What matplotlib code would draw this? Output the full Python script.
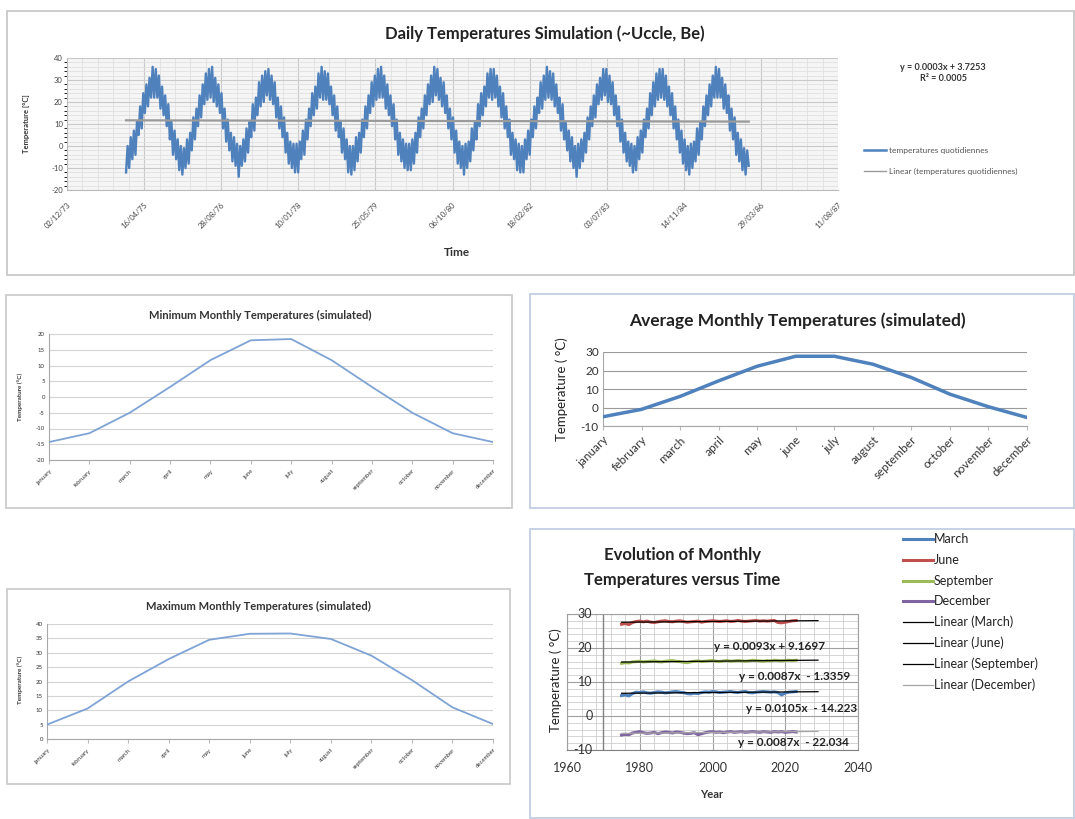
import numpy as np
import pandas as pd
import matplotlib
matplotlib.use('Agg')
import matplotlib.pyplot as plt
from matplotlib.patches import Rectangle
from matplotlib.lines import Line2D
from matplotlib.transforms import offset_copy
import matplotlib.dates as mdates
from matplotlib.ticker import MultipleLocator, FixedLocator, NullFormatter

plt.rcParams['font.family'] = ['Lato', 'DejaVu Sans']
plt.rcParams['axes.unicode_minus'] = False

# ---------------- DATA ----------------
# Daily temperature simulation (~10-day samples read from the band), one row per year from Dec 1974
daily_rows = [
    [-12,0,-10,4,-6,7,-4,11,5,18,8,24,15,28,18,31,22,36,22,35,22,32,17,27,14,23,9,19,3,11,-4,7,-6,3,-11,0],
    [-13,-1,-10,3,-8,6,-2,13,3,17,9,23,13,28,19,33,21,35,22,36,20,31,18,28,15,24,8,17,2,12,-2,6,-7,4,-9,1],
    [-14,0,-9,3,-7,8,-3,11,4,19,7,22,14,29,18,32,20,34,23,35,21,32,19,29,13,22,8,18,4,13,-3,6,-8,2,-10,1],
    [-12,1,-12,2,-6,7,-4,12,3,17,9,24,14,27,17,33,22,36,21,34,21,33,19,27,14,23,7,18,4,11,-3,8,-6,3,-12,0],
    [-13,0,-11,4,-7,6,-3,12,4,18,8,23,15,29,18,32,21,35,22,36,22,32,17,28,14,23,9,19,3,12,-4,6,-7,3,-10,1],
    [-11,1,-11,3,-8,6,-3,13,4,17,8,23,14,28,19,32,20,36,23,35,21,31,18,29,15,23,8,17,3,13,-3,7,-8,2,-10,0],
    [-13,1,-10,2,-7,8,-2,11,3,19,9,24,14,27,18,33,22,35,21,35,22,32,18,27,13,24,8,18,4,12,-4,6,-6,3,-11,1],
    [-12,0,-12,3,-6,7,-4,12,4,18,8,22,15,29,17,32,21,36,22,34,21,33,18,28,15,22,7,19,3,11,-2,7,-7,4,-10,0],
    [-14,1,-10,3,-7,6,-3,13,3,18,9,23,13,28,19,31,21,35,23,35,20,32,19,29,14,23,9,18,2,12,-3,6,-7,2,-9,1],
    [-12,0,-11,4,-6,7,-3,12,4,17,8,24,14,29,18,33,21,35,22,35,21,32,18,27,14,24,8,18,3,12,-3,7,-8,3,-11,0],
    [-13,1,-10,2,-7,8,-4,11,3,18,9,23,14,28,18,32,22,36,22,35,22,31,17,28,15,23,7,17,3,13,-4,6,-7,3,-11,-1],
    [-13,-2,-9],
]
daily_start = '1974-12-20'
daily_step_days = 365.25 / 36
daily_label = 'temperatures quotidiennes'
daily_trend_label = 'Linear (temperatures quotidiennes)'
daily_eq = 'y = 0.0003x + 3.7253\nR² = 0.0005'
date_tick_labels = ['02/12/73', '16/04/75', '28/08/76', '10/01/78', '25/05/79', '06/10/80',
                    '18/02/82', '03/07/83', '14/11/84', '29/03/86', '11/08/87']

months = ['january', 'february', 'march', 'april', 'may', 'june', 'july',
          'august', 'september', 'october', 'november', 'december']
min_temps = [-14.3, -11.5, -5.0, 3.2, 11.7, 18.0, 18.4, 11.7, 3.2, -5.0, -11.5, -14.3]
max_temps = [5.0, 10.6, 20.0, 27.8, 34.5, 36.6, 36.7, 34.8, 29.0, 20.5, 11.0, 5.2]
avg_temps = [-5.0, -1.0, 6.0, 14.4, 22.3, 27.7, 27.7, 23.4, 16.2, 7.2, 0.4, -5.4]

years = list(range(1975, 2024))
june = [27.0,27.2,26.9,27.5,27.8,27.9,27.7,27.9,27.6,27.5,27.7,27.9,28.0,27.8,27.7,27.9,28.0,
        27.8,27.6,27.7,27.8,27.9,27.6,27.8,27.9,28.0,27.9,27.8,27.9,28.0,27.8,27.9,28.1,27.9,
        27.8,27.9,28.0,28.1,27.9,28.0,27.9,28.0,28.1,27.5,27.4,27.6,27.8,28.0,28.1]
september = [15.5,15.7,15.6,15.9,16.0,16.1,15.9,16.0,16.1,16.2,16.0,15.9,16.1,16.2,16.3,16.1,
             16.0,15.8,15.7,15.9,16.1,16.2,16.0,16.1,16.2,16.3,16.1,16.0,16.2,16.3,16.1,16.2,
             16.3,16.2,16.1,16.2,16.4,16.3,16.2,16.1,16.3,16.2,16.4,16.3,16.2,16.3,16.4,16.3,16.4]
march = [6.0,6.2,5.9,6.6,7.0,6.9,7.1,6.8,6.7,6.9,7.1,7.0,6.8,6.9,7.1,7.2,7.0,6.9,6.6,6.5,6.7,
         6.6,6.9,7.1,7.0,7.2,7.1,6.9,7.0,7.1,7.2,7.0,6.9,7.1,7.2,6.9,6.8,7.0,7.1,7.2,7.1,7.0,
         7.1,6.9,6.2,6.8,7.0,7.1,7.2]
december = [-5.6,-5.4,-5.5,-5.0,-4.8,-4.6,-4.9,-5.1,-5.0,-4.8,-5.2,-4.9,-4.7,-4.8,-5.0,-4.7,
            -4.8,-5.0,-5.2,-5.1,-4.9,-5.5,-5.2,-4.9,-4.7,-4.6,-4.8,-4.7,-4.9,-4.7,-4.6,-4.8,
            -4.7,-4.6,-4.8,-4.7,-4.6,-4.7,-4.8,-4.6,-4.7,-4.8,-4.6,-4.7,-4.6,-4.8,-4.7,-4.6,-4.7]
evo_series = ['March', 'June', 'September', 'December']
evo_values = [march, june, september, december]
evo_colors = ['#4F81BD', '#C0504D', '#9BBB59', '#8064A2']
trend_colors = ['#000000', '#000000', '#000000', '#A6A6A6']
evo_equations = ['y = 0.0093x + 9.1697', 'y = 0.0087x  - 1.3359',
                 'y = 0.0105x  - 14.223', 'y = 0.0087x  - 22.034']
evo_ticks_y = [-10, 0, 10, 20, 30]
evo_axis_year = 1970
trend_end_year = 2029

# ---------------- FIGURE ----------------
W, H = 1075, 819
fig = plt.figure(figsize=(W / 100, H / 100), dpi=100)


def rect(l, t, r, b):
    return [l / W, 1 - b / H, (r - l) / W, (b - t) / H]


def fx(x):
    return x / W


def fy(y):
    return 1 - y / H


def box(l, t, r, b, color):
    fig.add_artist(Rectangle((fx(l), fy(b)), (r - l) / W, (b - t) / H, transform=fig.transFigure,
                             fill=False, edgecolor=color, linewidth=1.2))


def ftext(x, y, s, **kw):
    fig.text(fx(x), fy(y), s, **kw)


box(7, 11, 1074, 275, '#c4c4c4')
box(6, 295, 512, 508, '#c8c8c8')
box(530, 294, 1074, 508, '#bccbe0')
box(7, 589, 510, 784, '#c8c8c8')
box(530, 529, 1074, 818, '#bccbe0')

# ---- Top: daily temperatures ----
ax = fig.add_axes(rect(67, 58, 838, 190))
daily = np.concatenate([np.array(r, dtype=float) for r in daily_rows])
dates = pd.Timestamp(daily_start) + pd.to_timedelta(np.arange(len(daily)) * daily_step_days, unit='D')
xd = mdates.date2num(dates.to_pydatetime())
tick_dates = pd.to_datetime(date_tick_labels, format='%d/%m/%y')
xt = mdates.date2num(tick_dates.to_pydatetime())
ax.set_facecolor('#f5f5f5')
ax.plot(xd, daily, color='#4F81BD', lw=1.7, zorder=3, solid_joinstyle='round')
coef = np.polyfit(xd, daily, 1)
xx = np.array([xd[0], xd[-1]])
ax.plot(xx, np.polyval(coef, xx), color='#9a9a9a', lw=1.6, zorder=4)
ax.set_xlim(xt[0], xt[-1])
ax.set_ylim(-20, 40)
ax.xaxis.set_major_locator(FixedLocator(xt))
ax.xaxis.set_minor_locator(FixedLocator(np.arange(xt[0], xt[-1], (xt[1] - xt[0]) / 5)))
ax.set_xticklabels(date_tick_labels, rotation=45, ha='right', va='top', rotation_mode='anchor',
                   fontsize=5.5, color='#444444')
ax.yaxis.set_major_locator(MultipleLocator(10))
ax.yaxis.set_minor_locator(MultipleLocator(2))
ax.tick_params(axis='y', labelsize=5.5, labelcolor='#444444', length=0, pad=3)
ax.tick_params(axis='x', which='both', length=0, pad=8)
ax.grid(which='major', color='#c9c9c9', lw=0.8)
ax.grid(which='minor', color='#e0e0e0', lw=0.6)
ax.set_axisbelow(True)
for s in ax.spines.values():
    s.set_visible(False)
ax.spines['bottom'].set_visible(True)
ax.spines['bottom'].set_color('#bbbbbb')
ax.spines['left'].set_visible(True)
ax.spines['left'].set_color('#bbbbbb')
ftext(545, 34, 'Daily Temperatures Simulation (~Uccle, Be)', ha='center', va='center',
      fontsize=12, fontweight='bold', color='#222222')
ftext(27, 124, 'Temperature [°C]', ha='center', va='center', rotation=90, fontsize=5.5,
      fontweight='bold', color='#333333')
ftext(457, 252, 'Time', ha='center', va='center', fontsize=8.5, fontweight='bold', color='#333333')
ftext(943, 73, daily_eq, ha='center', va='center', fontsize=6.5, fontweight='bold',
      color='#333333', linespacing=1.3)
fig.add_artist(Line2D([fx(864), fx(886)], [fy(150), fy(150)], transform=fig.transFigure,
                      color='#4F81BD', lw=1.8))
fig.add_artist(Line2D([fx(864), fx(886)], [fy(171), fy(171)], transform=fig.transFigure,
                      color='#9a9a9a', lw=1.0))
ftext(889, 150, daily_label, ha='left', va='center', fontsize=6, color='#555555')
ftext(889, 171, daily_trend_label, ha='left', va='center', fontsize=6, color='#555555')


# ---- Monthly charts helper ----
def monthly(axrect, values, ymin, ymax, ystep, color, lw, fs, gridc):
    a = fig.add_axes(axrect)
    xi = np.arange(len(months))
    a.plot(xi, values, color=color, lw=lw, zorder=3)
    a.set_xlim(0, len(months) - 1)
    a.set_ylim(ymin, ymax)
    a.set_xticks(xi)
    a.set_xticklabels(months, rotation=45, ha='right', va='top', rotation_mode='anchor',
                      fontsize=fs, color='#333333')
    a.yaxis.set_major_locator(MultipleLocator(ystep))
    a.tick_params(axis='y', labelsize=fs, labelcolor='#333333', length=0, pad=3)
    a.tick_params(axis='x', length=3, color='#bbbbbb', direction='out', pad=3)
    a.grid(axis='y', color=gridc, lw=0.8)
    a.set_axisbelow(True)
    for s in ['top', 'right']:
        a.spines[s].set_visible(False)
    for s in ['left', 'bottom']:
        a.spines[s].set_color('#a8a8a8')
    a.set_facecolor('none')
    return a


monthly(rect(49, 334, 493, 460), min_temps, -20, 20, 5, '#7fa3d5', 1.3, 4.3, '#d4d4d4')
ftext(260, 315, 'Minimum Monthly Temperatures (simulated)', ha='center', va='center',
      fontsize=8, fontweight='bold', color='#333333')
ftext(20, 397, 'Temperature (°C)', ha='center', va='center', rotation=90, fontsize=4.5,
      fontweight='bold', color='#333333')

monthly(rect(47, 624, 493, 739), max_temps, 0, 40, 5, '#7fa3d5', 1.3, 4.3, '#d4d4d4')
ftext(258, 606, 'Maximum Monthly Temperatures (simulated)', ha='center', va='center',
      fontsize=8, fontweight='bold', color='#333333')
ftext(20, 680, 'Temperature (°C)', ha='center', va='center', rotation=90, fontsize=4.5,
      fontweight='bold', color='#333333')

monthly(rect(603, 352, 1027, 426), avg_temps, -10, 30, 10, '#4F81BD', 2.5, 8.5, '#9a9a9a')
ftext(797, 321, 'Average Monthly Temperatures (simulated)', ha='center', va='center',
      fontsize=12.5, fontweight='bold', color='#222222')
ftext(562, 389, 'Temperature ( °C)', ha='center', va='center', rotation=90, fontsize=9.5,
      color='#222222')

# ---- Evolution chart ----
ae = fig.add_axes(rect(567, 614, 858, 750))
for name, vals, c, tc in zip(evo_series, evo_values, evo_colors, trend_colors):
    ae.plot(years, vals, color=c, lw=2.2, zorder=3)
    cf = np.polyfit(years, vals, 1)
    yy = np.array([years[0], trend_end_year])
    ae.plot(yy, np.polyval(cf, yy), color=tc, lw=0.9, zorder=4)
ae.set_xlim(1960, 2040)
ae.set_ylim(-10, 30)
ae.xaxis.set_major_locator(MultipleLocator(20))
ae.xaxis.set_minor_locator(MultipleLocator(4))
ae.yaxis.set_major_locator(FixedLocator(evo_ticks_y))
ae.yaxis.set_minor_locator(MultipleLocator(2))
ae.yaxis.set_major_formatter(NullFormatter())
ae.grid(which='major', color='#a0a0a0', lw=0.8)
ae.grid(which='minor', color='#cfcfcf', lw=0.6)
ae.set_axisbelow(True)
ae.axvline(evo_axis_year, color='#808080', lw=1.0, zorder=1)
for s in ae.spines.values():
    s.set_color('#a0a0a0')
ae.spines['bottom'].set_color('#808080')
ae.tick_params(axis='both', which='both', length=0)
ae.tick_params(axis='x', labelsize=9, labelcolor='#333333', pad=9)
ae.set_facecolor('none')
ylab_tr = offset_copy(ae.transData, fig=fig, x=-11, y=0, units='dots')
for v in evo_ticks_y:
    ae.text(evo_axis_year, v, str(v), transform=ylab_tr, ha='right', va='center',
            fontsize=9, color='#333333', zorder=5, clip_on=False)
ftext(682, 555, 'Evolution of Monthly', ha='center', va='center', fontsize=12,
      fontweight='bold', color='#222222')
ftext(682, 580, 'Temperatures versus Time', ha='center', va='center', fontsize=12,
      fontweight='bold', color='#222222')
ftext(556, 680, 'Temperature ( °C)', ha='center', va='center', rotation=90, fontsize=9.5,
      color='#222222')
ftext(712, 795, 'Year', ha='center', va='center', fontsize=8, fontweight='bold', color='#333333')
eq_pos = [(770, 647), (795, 676), (802, 708), (793, 743)]
for (ex, ey), s in zip(eq_pos, evo_equations):
    ftext(ex, ey, s, ha='center', va='center', fontsize=8.5, fontweight='bold', color='#222222')

leg_labels = evo_series + ['Linear (%s)' % n for n in evo_series]
leg_colors = evo_colors + trend_colors
leg_lw = [2.2] * 4 + [0.9] * 4
for i, (lab, c, lw) in enumerate(zip(leg_labels, leg_colors, leg_lw)):
    yy = 539 + 20.8 * i
    fig.add_artist(Line2D([fx(903), fx(933)], [fy(yy), fy(yy)], transform=fig.transFigure,
                          color=c, lw=lw))
    ftext(934, yy, lab, ha='left', va='center', fontsize=9, color='#222222')

fig.savefig('out.png', dpi=100, facecolor='white')
